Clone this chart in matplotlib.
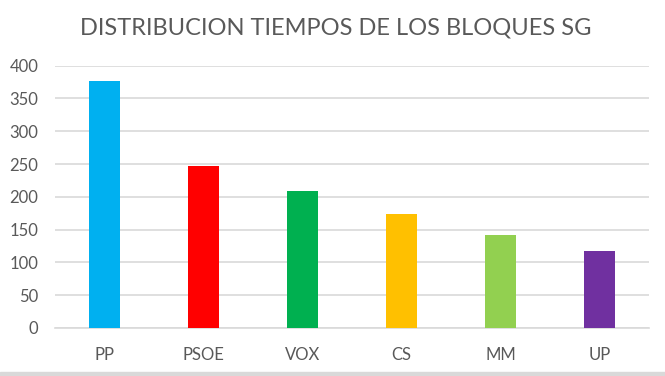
import matplotlib.pyplot as plt
from matplotlib.patches import Rectangle

partidos = ['PP', 'PSOE', 'VOX', 'CS', 'MM', 'UP']
tiempos = [377, 247, 209, 174, 142, 118]
colores = ['#00B0F0', '#FF0000', '#00B050', '#FFC000', '#92D050', '#7030A0']
yticks = [0, 50, 100, 150, 200, 250, 300, 350, 400]

gris = '#595959'
plt.rcParams['font.family'] = ['Lato', 'DejaVu Sans']

fig = plt.figure(figsize=(6.65, 3.76), dpi=100)
ax = fig.add_axes([55 / 665, 1 - 328 / 376, 594 / 665, 262.3 / 376])

# Barras
x = range(len(partidos))
ax.bar(x, tiempos, width=0.31, color=colores, zorder=3)

# Ejes y rejilla al estilo Excel
ax.set_xlim(-0.5, len(partidos) - 0.5)
ax.set_ylim(0, 400)
ax.set_yticks(yticks)
ax.set_xticks(list(x))
ax.set_xticklabels(partidos)
ax.yaxis.grid(True, color='#D9D9D9', linewidth=1.2, zorder=0)
for s in ['top', 'right', 'left']:
    ax.spines[s].set_visible(False)
ax.spines['bottom'].set_color('#D9D9D9')
ax.spines['bottom'].set_linewidth(1.2)
ax.tick_params(axis='both', length=0, colors=gris, labelsize=12)
ax.tick_params(axis='x', pad=14)
ax.tick_params(axis='y', pad=12)

fig.text(0.505, 1 - 28 / 376, 'DISTRIBUCION TIEMPOS DE LOS BLOQUES SG',
         ha='center', va='center', fontsize=17, color=gris)

# franja gris inferior
fig.patches.append(Rectangle((0, 0), 1, 4 / 376, transform=fig.transFigure,
                             color='#D9D9D9', zorder=0))

fig.savefig('out.png', dpi=100)
